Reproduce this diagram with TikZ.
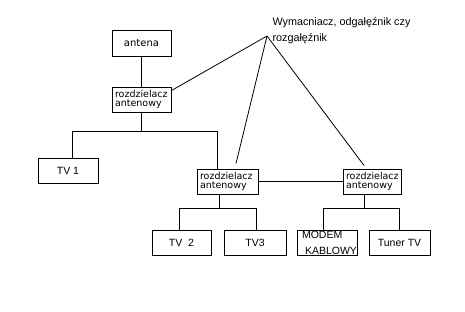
\documentclass[tikz,border=0pt]{standalone}
\usepackage{fontspec}
\setsansfont{Liberation Sans}
\newfontfamily\pixfont{DejaVu Sans}
\usetikzlibrary{calc}

\begin{document}
\begin{tikzpicture}[
  x=1pt, y=-1pt,
  font=\sffamily\fontsize{10.5}{16}\selectfont,
  line width=1pt,
  box/.style={draw, inner sep=0pt, minimum height=25pt, align=center},
  split/.style={box, text width=#1, inner xsep=3pt, align=left,
                font=\pixfont\fontsize{9.5}{9.5}\selectfont}
]
\useasboundingbox (0,0) rectangle (465,311);

\node[box, minimum width=59pt, minimum height=26pt,
      font=\pixfont\fontsize{10}{10}\selectfont] (antena) at (141.5,43) {antena};
\node[split=53pt] (rz1) at (141.5,99.5) {rozdzielacz\\antenowy};
\node[box, minimum width=60pt] (tv1) at (68,170.5) {TV 1};
\node[split=55pt] (rz2) at (227.5,181.5) {rozdzielacz\\antenowy};
\node[split=52pt] (rz3) at (372,181.5) {rozdzielacz\\antenowy};
\node[box, minimum width=59pt] (tv2) at (181.5,242.5) {TV\ \ 2};
\node[box, minimum width=62pt] (tv3) at (255,242.5) {TV3};
\node[box, text width=54pt, inner xsep=3pt, align=left] (modem) at (327,242.5)
  {\hspace*{2pt}MODEM\\\hspace*{5pt}KABLOWY};
\node[box, minimum width=61pt] (tuner) at (399.5,242.5) {Tuner TV};

% first splitter
\draw (antena) -- (rz1);
\draw (rz1.south) -- ++(0,19) coordinate (j1);
\draw ($(tv1.north)+(4,0)$) |- (j1) -| ($(rz2.north)+(-10.5,0)$);

% second and third splitter
\draw (rz2) -- (rz3);
\draw ($(rz2.south)+(-8.5,0)$) -- ++(0,14) coordinate (j2);
\draw ($(tv2.north)+(-2.5,0)$) |- (j2) -| ($(tv3.north)+(1,0)$);
\draw ($(rz3.south)+(-8,0)$) -- ++(0,14) coordinate (j3);
\draw ($(modem.north)+(-4,0)$) |- (j3) -| (tuner.north);

% label
\node[anchor=north west, inner sep=0pt, align=left,
      font=\sffamily\fontsize{10.8}{16}\selectfont] (lbl) at (272,17.5)
  {Wymacniacz, odgałęźnik czy\\rozgałęźnik};
\coordinate (apex) at ($(lbl.north west)+(-5,18.5)$);
\draw[line width=0.8pt] (apex) -- ($(rz1.north east)+(0,4)$);
\draw[line width=0.8pt] (apex) -- ($(rz2.north)+(8.5,-5)$);
\draw[line width=0.8pt] (apex) -- ($(rz3.north)+(-8,-3)$);
\end{tikzpicture}
\end{document}
